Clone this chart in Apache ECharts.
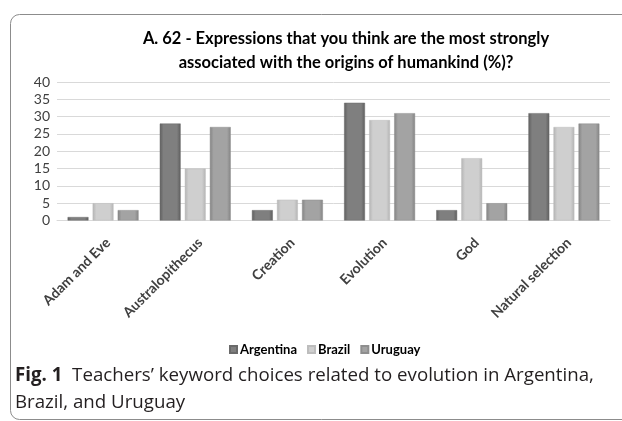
<!DOCTYPE html>
<html>
<head>
<meta charset="utf-8">
<script src="https://cdn.jsdelivr.net/npm/echarts@6/dist/echarts.min.js"></script>
<style>
html,body{margin:0;padding:0;background:#fff;}
#chart{width:622px;height:421px;}
</style>
</head>
<body>
<div id="chart"></div>
<script>
const categories = ['Adam and Eve', 'Australopithecus', 'Creation', 'Evolution', 'God', 'Natural selection'];
const argentina = [1, 28, 3, 34, 3, 31];
const brazil = [5, 15, 6, 29, 18, 27];
const uruguay = [3, 27, 6, 31, 5, 28];
const yTicks = [0, 5, 10, 15, 20, 25, 30, 35, 40];

function bevel(edge, mid) {
  return new echarts.graphic.LinearGradient(0, 0, 1, 0, [
    {offset: 0, color: edge},
    {offset: 0.18, color: mid},
    {offset: 0.82, color: mid},
    {offset: 1, color: edge}
  ]);
}

const chart = echarts.init(document.getElementById('chart'), null, {renderer: 'canvas'});
const seriesDefs = [
  {name: 'Argentina', data: argentina, edge: '#5e5e5e', mid: '#7f7f7f', border: '#6a6a6a'},
  {name: 'Brazil', data: brazil, edge: '#b3b3b3', mid: '#cfcfcf', border: '#bdbdbd'},
  {name: 'Uruguay', data: uruguay, edge: '#838383', mid: '#a3a3a3', border: '#8e8e8e'}
];

chart.setOption({
  backgroundColor: '#ffffff',
  animation: false,
  title: {
    text: 'A. 62 - Expressions that you think are the most strongly\nassociated with the origins of humankind (%)?',
    left: 341,
    top: 22,
    textAlign: 'center',
    textStyle: {fontFamily: 'Lato', fontWeight: 'bold', fontSize: 16.5, lineHeight: 24, color: '#000'}
  },
  legend: {
    data: ['Argentina', 'Brazil', 'Uruguay'],
    left: 224,
    top: 338,
    itemWidth: 7,
    itemHeight: 7,
    itemGap: 10,
    icon: 'rect',
    textStyle: {fontFamily: 'Lato', fontWeight: 'bold', fontSize: 13, color: '#000', padding: [0, 0, 0, -2]}
  },
  grid: {left: 57, right: 12, top: 82, bottom: 200.5, containLabel: false},
  xAxis: {
    type: 'category',
    data: categories,
    axisLine: {show: true, lineStyle: {color: '#d9d9d9', width: 1}},
    axisTick: {show: false},
    axisLabel: {rotate: 45, margin: 15, interval: 0, verticalAlign: 'top', fontFamily: 'Lato', fontWeight: 'bold', fontSize: 14, color: '#404040'}
  },
  yAxis: {
    type: 'value',
    min: yTicks[0],
    max: yTicks[yTicks.length - 1],
    interval: yTicks[1] - yTicks[0],
    axisLine: {show: false},
    axisTick: {show: false},
    splitLine: {lineStyle: {color: '#d9d9d9', width: 1}},
    axisLabel: {margin: 7, fontFamily: 'Lato', fontSize: 14, color: '#404040'}
  },
  series: seriesDefs.map(s => ({
    name: s.name,
    type: 'bar',
    data: s.data,
    barGap: '20%',
    barCategoryGap: '23%',
    itemStyle: {color: bevel(s.edge, s.mid), borderColor: s.border, borderWidth: 0.5}
  })),
  graphic: [
    {
      type: 'rect',
      shape: {x: 10.5, y: 14.5, width: 700, height: 405, r: 9},
      style: {fill: 'none', stroke: '#8c8c8c', lineWidth: 1},
      silent: true
    },
    {
      type: 'text',
      left: 15,
      top: 362,
      style: {
        text: '{b|Fig. 1}  Teachers\u2019 keyword choices related to evolution in Argentina,\nBrazil, and Uruguay',
        font: '18.7px "Open Sans"',
        fill: '#231f20',
        lineHeight: 27,
        rich: {b: {fontFamily: 'Open Sans', fontWeight: 'bold', fontSize: 18.7, fill: '#231f20'}}
      }
    }
  ]
});
</script>
</body>
</html>
